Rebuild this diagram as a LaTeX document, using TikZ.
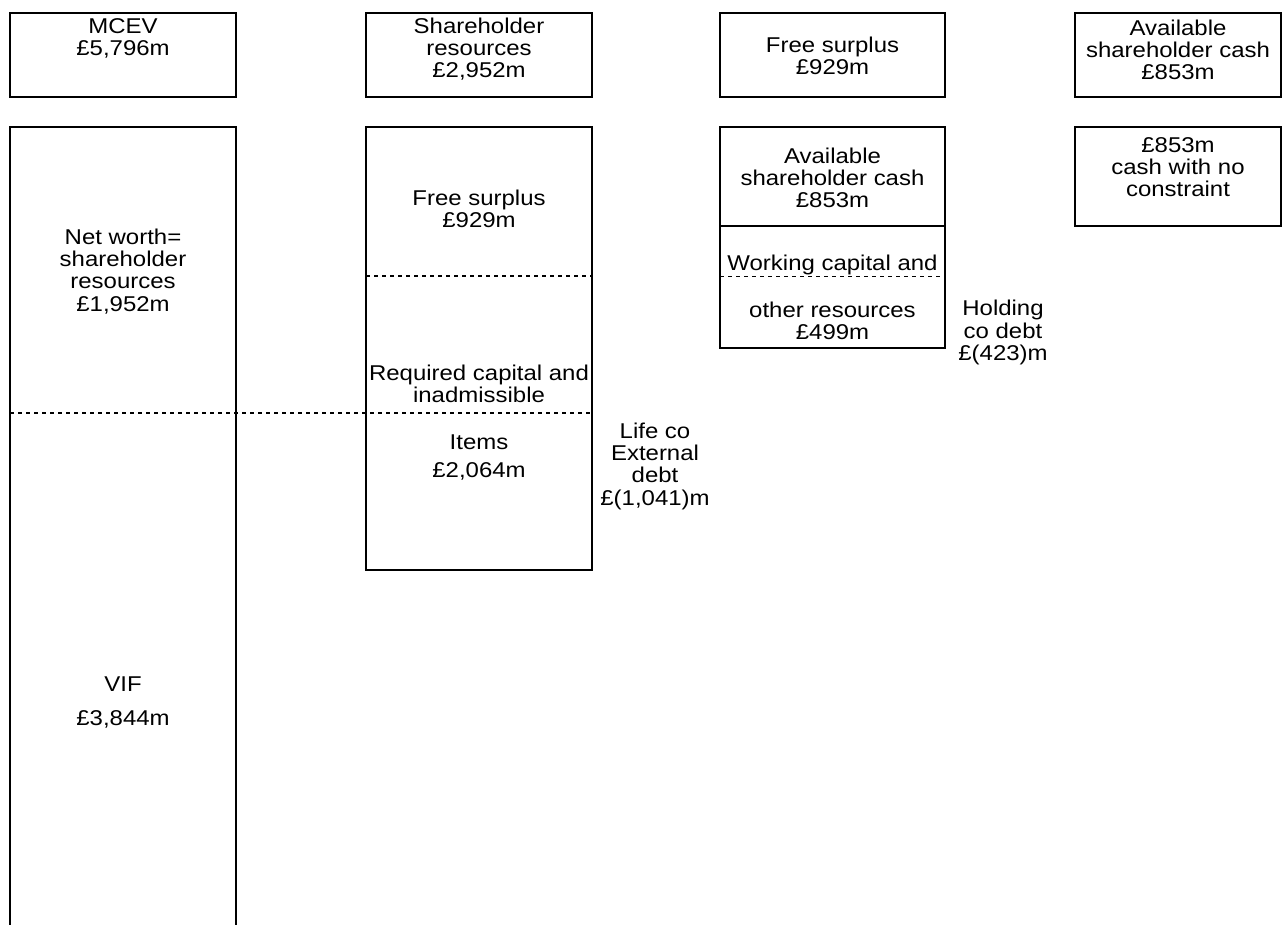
\documentclass[tikz,border=0pt]{standalone}
\usepackage{fontspec}
\setmainfont{Liberation Sans}[FakeStretch=1.12]
\begin{document}
\begin{tikzpicture}[x=1pt,y=-1pt,
    box/.style={line width=1.6pt},
    split/.style={line width=1.4pt,dash pattern=on 4pt off 4pt},
    txt/.style={align=center,inner sep=0pt,anchor=north,font=\fontsize{21.4}{22.3}\selectfont}]
    \useasboundingbox[fill=white] (0,0) rectangle (1288,925);
    \foreach \l/\r in {10/236,366/592,720/945,1075/1281}
        \draw[box] (\l,13) rectangle (\r,97);
    \draw[box] (10,925) -- (10,127) -- (236,127) -- (236,925);
    \draw[box] (366,127) rectangle (592,570);
    \draw[box] (720,127) rectangle (945,348);
    \draw[box] (720,226) -- (945,226);
    \draw[box] (1075,127) rectangle (1281,226);
    \draw[split] (10,413) -- (592,413);
    \draw[split] (366,276) -- (592,276);
    \draw[split] (720,276.5) -- (945,276.5);
    \node[txt] (mcev) at (123,18) {MCEV\\£5,796m};
    \node[txt] (shres) at (479,17.5) {Shareholder\\resources\\£2,952m};
    \node[txt] (fstop) at (832.5,36.5) {Free surplus\\£929m};
    \node[txt] (avtop) at (1178,19.5) {Available\\shareholder cash\\£853m};
    \node[txt] (networth) at (123,228.5) {Net worth=\\shareholder\\resources\\£1,952m};
    \node[txt] (vif) at (123,677) {VIF\\[11pt]£3,844m};
    \node[txt] (fsmid) at (479,189.5) {Free surplus\\£929m};
    \node[txt] (reqcap) at (479,364.5) {Required capital and\\inadmissible};
    \node[txt] (items) at (479,435) {Items\\[5.5pt]£2,064m};
    \node[txt] (lifeco) at (655,422.5) {Life co\\External\\debt\\£(1,041)m};
    \node[txt] (avmid) at (832.5,147.5) {Available\\shareholder cash\\£853m};
    \node[txt] (wcap) at (832.5,254.5) {Working capital and};
    \node[txt] (otherres) at (832.5,301.5) {other resources\\£499m};
    \node[txt] (holdco) at (1003,300) {Holding\\co debt\\£(423)m};
    \node[txt] (nocons) at (1178,137) {£853m\\cash with no\\constraint};
\end{tikzpicture}
\end{document}
